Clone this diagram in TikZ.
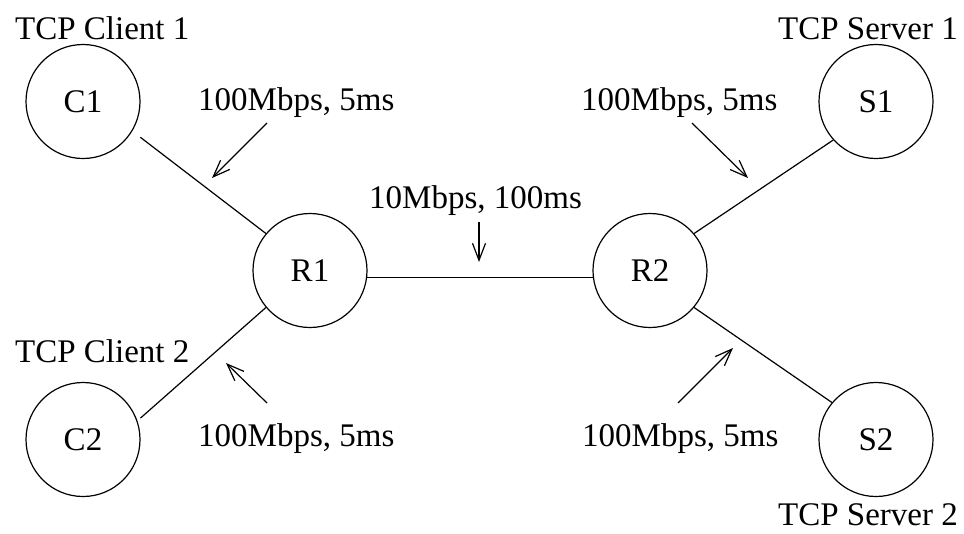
\documentclass[tikz,border=0pt]{standalone}
\usepackage{fontspec}
\setmainfont{Liberation Serif}
\usetikzlibrary{arrows.meta}
\begin{document}
\begin{tikzpicture}[x=1pt,y=-1pt,
  font=\fontsize{33}{40}\selectfont,
  hostnode/.style={circle,draw,line width=1.2pt,minimum size=114pt,inner sep=0pt},
  txt/.style={anchor=base west,inner sep=0pt},
  link/.style={line width=1.2pt},
  pointer/.style={line width=1.2pt,-{Straight Barb[length=17pt,width=13pt,line width=1.2pt]}}]
\useasboundingbox (0,0) rectangle (964,533);
% hosts and routers
\node[hostnode] (C1) at (83,101.5) {C1};
\node[hostnode] (C2) at (83,439.5) {C2};
\node[hostnode] (R1) at (310,270.5) {R1};
\node[hostnode] (R2) at (650,270.5) {R2};
\node[hostnode] (S1) at (876,101.5) {S1};
\node[hostnode] (S2) at (876,439.5) {S2};
% names
\node[txt] (tc1) at (15,39) {TCP Client 1};
\node[txt] (tc2) at (15,362) {TCP Client 2};
\node[txt] (ts1) at (778,39) {TCP Server 1};
\node[txt] (ts2) at (778,525) {TCP Server 2};
% link labels
\node[txt] (l1) at (198,110) {100Mbps, 5ms};
\node[txt] (l2) at (581,110) {100Mbps, 5ms};
\node[txt] (l3) at (198,446) {100Mbps, 5ms};
\node[txt] (l4) at (582,446) {100Mbps, 5ms};
\node[txt] (l5) at (369,208) {10Mbps, 100ms};
% links
\draw[link,shorten <=10pt] (C1.-31) -- (R1.140);
\draw[link,shorten <=4pt] (C2.19) -- (R1.220);
\draw[link] (R1.-7.4) -- (R2.187.4);
\draw[link] (R2.40) -- (S1.222);
\draw[link] (R2.-40) -- (S2.140);
% pointers
\coordinate (a1s) at (267,123); \coordinate (a1e) at (212,178);
\coordinate (a2s) at (692,123); \coordinate (a2e) at (748,178);
\coordinate (a3s) at (267,403); \coordinate (a3e) at (226,363);
\coordinate (a4s) at (678,403); \coordinate (a4e) at (733,348);
\coordinate (a5s) at (479,222); \coordinate (a5e) at (479,262);
\draw[pointer] (a1s) -- (a1e);
\draw[pointer] (a2s) -- (a2e);
\draw[pointer] (a3s) -- (a3e);
\draw[pointer] (a4s) -- (a4e);
\draw[pointer] (a5s) -- (a5e);
\end{tikzpicture}
\end{document}
